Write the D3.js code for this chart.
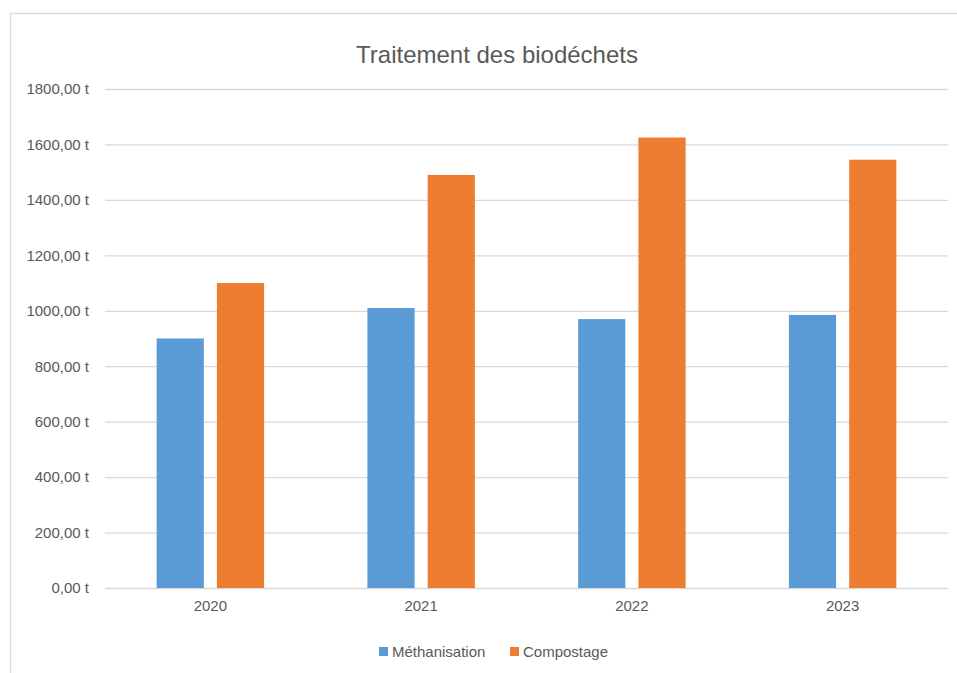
<!DOCTYPE html>
<html>
<head>
<meta charset="utf-8">
<script src="https://cdn.jsdelivr.net/npm/d3@7"></script>
<style>
  body { margin: 0; background: #fff; }
  .chart text { font-family: "Liberation Sans Narrow", "Arial Narrow", "Liberation Sans", Arial, sans-serif; fill: #595959; }
  .axis .domain { display: none; }
  .y-axis line { stroke: #d9d9d9; stroke-width: 1.3; }
</style>
</head>
<body>
<div class="chart"></div>
<script>
// data
const years = ["2020", "2021", "2022", "2023"];
const seriesNames = ["Méthanisation", "Compostage"];
const methanisation = [900, 1010, 970, 985];
const compostage = [1100, 1490, 1625, 1545];
const yTicks = [0, 200, 400, 600, 800, 1000, 1200, 1400, 1600, 1800];
const colors = ["#5b9bd5", "#ed7d31"];

const W = 957, H = 673;
const margin = {top: 89, right: 9, bottom: 85, left: 105};
const w = W - margin.left - margin.right;
const h = H - margin.top - margin.bottom;

const svg = d3.select(".chart").append("svg")
    .attr("width", W)
    .attr("height", H);

// outer frame (only top and left visible)
svg.append("rect")
    .attr("x", 10.5).attr("y", 13.5)
    .attr("width", 970).attr("height", 700)
    .attr("fill", "none")
    .attr("stroke", "#d9d9d9")
    .attr("stroke-width", 1.3);

svg.append("text")
    .attr("x", 497).attr("y", 63)
    .attr("text-anchor", "middle")
    .style("font-size", "24px")
    .text("Traitement des biodéchets");

const g = svg.append("g")
    .attr("transform", `translate(${margin.left},${margin.top})`);

const x0 = d3.scaleBand().domain(years).range([0, w])
    .paddingInner(0.49).paddingOuter(0.245);
const x1 = d3.scaleBand().domain(seriesNames).range([0, x0.bandwidth()])
    .paddingInner(0.217).paddingOuter(0);
const y = d3.scaleLinear().domain([0, 1800]).range([h, 0]);

const fmt = d => d3.format(".2f")(d).replace(".", ",") + " t";

g.append("g")
    .attr("class", "axis y-axis")
    .call(d3.axisLeft(y).tickValues(yTicks).tickSize(-w).tickPadding(16).tickFormat(fmt))
    .call(s => s.selectAll("text").style("font-size", "15px"));

const rows = years.map((yr, i) => ({year: yr, values: [methanisation[i], compostage[i]]}));

g.selectAll(".grp")
    .data(rows)
    .join("g")
    .attr("class", "grp")
    .attr("transform", d => `translate(${x0(d.year)},0)`)
    .selectAll("rect")
    .data(d => d.values.map((v, j) => ({key: seriesNames[j], value: v, j})))
    .join("rect")
    .attr("x", d => x1(d.key))
    .attr("y", d => y(d.value))
    .attr("width", x1.bandwidth())
    .attr("height", d => h - y(d.value))
    .attr("fill", d => colors[d.j]);

g.append("g")
    .attr("class", "axis x-axis")
    .attr("transform", `translate(0,${h})`)
    .call(d3.axisBottom(x0).tickSize(0).tickPadding(12))
    .call(s => s.selectAll("text").style("font-size", "15px"));

// legend
const legendItems = [{name: seriesNames[0], x: 379}, {name: seriesNames[1], x: 510}];
const lg = svg.selectAll(".leg").data(legendItems).join("g")
    .attr("class", "leg")
    .attr("transform", d => `translate(${d.x},647)`);
lg.append("rect").attr("width", 9).attr("height", 9)
    .attr("fill", (d, i) => colors[i]);
lg.append("text").attr("x", 13).attr("y", 9.5)
    .style("font-size", "15px")
    .text(d => d.name);
</script>
</body>
</html>
